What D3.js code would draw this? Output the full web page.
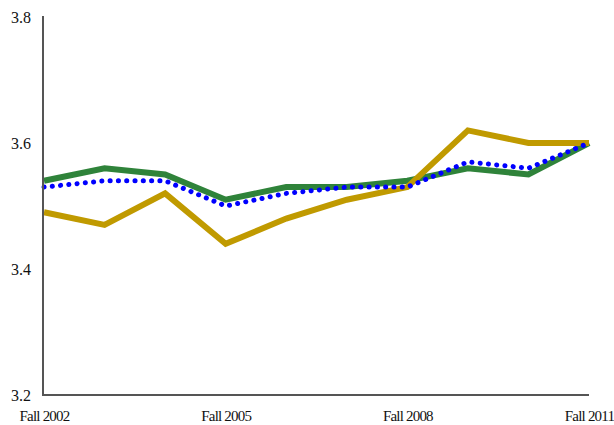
<!DOCTYPE html>
<html><head><meta charset="utf-8">
<script src="https://cdn.jsdelivr.net/npm/d3@7"></script>
<style>body{margin:0;background:#fff}svg text{font-family:"Liberation Serif","Times New Roman",serif !important;fill:#111}</style>
</head><body><svg id="c" width="614" height="425"></svg>
<script>
const categories = ["Fall 2002","Fall 2003","Fall 2004","Fall 2005","Fall 2006","Fall 2007","Fall 2008","Fall 2009","Fall 2010","Fall 2011"];
const greenSeries = [3.54,3.56,3.55,3.51,3.53,3.53,3.54,3.56,3.55,3.60];
const goldSeries  = [3.49,3.47,3.52,3.44,3.48,3.51,3.53,3.62,3.60,3.60];
const blueSeries  = [3.53,3.54,3.54,3.50,3.52,3.53,3.53,3.57,3.56,3.60];
const xTickLabels = ["Fall 2002","Fall 2005","Fall 2008","Fall 2011"];
const yTicks = [3.2,3.4,3.6,3.8];

const svg = d3.select("#c");
const x = d3.scalePoint().domain(categories).range([44,589]);
const y = d3.scaleLinear().domain([3.2,3.8]).range([395,17]);

const line = d3.line().x((d,i)=>x(categories[i])).y(d=>y(d));
svg.append("path").datum(greenSeries).attr("d",line).attr("fill","none")
  .attr("stroke","#2f833a").attr("stroke-width",6);
svg.append("path").datum(goldSeries).attr("d",line).attr("fill","none")
  .attr("stroke","#c09a00").attr("stroke-width",6);
svg.append("path").datum(blueSeries).attr("d",line).attr("fill","none")
  .attr("stroke","#0000ff").attr("stroke-width",5).attr("stroke-linecap","round")
  .attr("stroke-dasharray","0.1 8.2");

// axes
const yAxis = d3.axisLeft(y).tickValues(yTicks).tickSize(0).tickPadding(12).tickFormat(d3.format(".1f"));
const gy = svg.append("g").attr("transform","translate(43,0)").call(yAxis).attr("font-family",null);
gy.select(".domain").attr("stroke","#555").attr("stroke-width",2).attr("d","M0,16V396");
gy.selectAll("text").attr("font-size",16).attr("dy","0.34em");

const xAxis = d3.axisBottom(x).tickValues(xTickLabels).tickSize(0).tickPadding(15);
const gx = svg.append("g").attr("transform","translate(0,395)").call(xAxis).attr("font-family",null);
gx.select(".domain").attr("stroke","#555").attr("stroke-width",2).attr("d","M42,0H589");
gx.selectAll("text").attr("font-size",15).attr("letter-spacing","-0.8px");
</script></body></html>
